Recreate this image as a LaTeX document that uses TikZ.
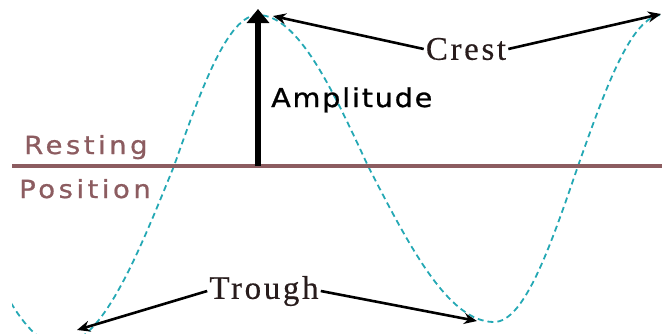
\documentclass[tikz,border=0pt]{standalone}
\usepackage{fontspec}
\setmainfont{Liberation Serif}
\newfontfamily\restfont[FakeStretch=1.1,LetterSpace=14,FakeBold=0.8]{DejaVu Sans}
\newfontfamily\ampfont[FakeStretch=1.1,LetterSpace=7,FakeBold=1]{DejaVu Sans}
\newfontfamily\wavefont[LetterSpace=8,FakeBold=0.4]{Liberation Serif}
\usetikzlibrary{arrows.meta}
\definecolor{restcol}{RGB}{140,92,96}
\definecolor{wavecol}{RGB}{36,168,180}
\definecolor{labcol}{RGB}{40,28,28}
\begin{document}
\begin{tikzpicture}[x=1pt,y=-1pt,
  wavestyle/.style={draw=wavecol,line width=1.8pt,dash pattern=on 6pt off 4pt},
  restline/.style={draw=restcol,line width=4.5pt},
  restlab/.style={text=restcol,inner sep=0pt,anchor=base west,font=\restfont\fontsize{25}{28}\selectfont},
  wavelab/.style={text=labcol,inner sep=2pt,font=\wavefont\fontsize{33}{36}\selectfont},
  pointer/.style={draw=black,line width=2.6pt,-{Stealth[length=13pt,width=11pt]}},
  amparrow/.style={draw=black,line width=6pt,-{Triangle[length=14pt,width=22pt]}}]
\useasboundingbox (0,0) rectangle (662,333);
% wave
\begin{scope}
\clip (12,0) rectangle (662,333);
\draw[wavestyle] (-50,166) sin (60,345) cos (174,166) sin (258,15) cos (368,166)
  sin (494,322) cos (578,166) sin (662,15) cos (760,166);
\end{scope}
% resting line
\coordinate (restL) at (12,166);
\coordinate (restR) at (662,166);
\draw[restline] (restL) -- (restR);
\node[restlab] (resting) at (24,154) {Resting};
\node[restlab] (position) at (19,198) {Position};
% amplitude
\coordinate (ampbase) at (258,166);
\coordinate (amptop) at (258,9);
\draw[amparrow] (ampbase) -- (amptop);
\node[text=black,inner sep=0pt,anchor=base west,font=\ampfont\fontsize{26}{30}\selectfont] (amp) at (271,107) {Amplitude};
% crest
\node[wavelab] (crest) at (466,49) {Crest};
\coordinate (crestL) at (273,16);
\coordinate (crestR) at (661,14);
\draw[pointer] (crest.west) -- (crestL);
\draw[pointer] (crest.east) -- (crestR);
% trough
\node[wavelab] (trough) at (264,291) {Trough};
\coordinate (troughL) at (77,330);
\coordinate (troughR) at (477,321);
\draw[pointer] (trough.west) -- (troughL);
\draw[pointer] (trough.east) -- (troughR);
\end{tikzpicture}
\end{document}
